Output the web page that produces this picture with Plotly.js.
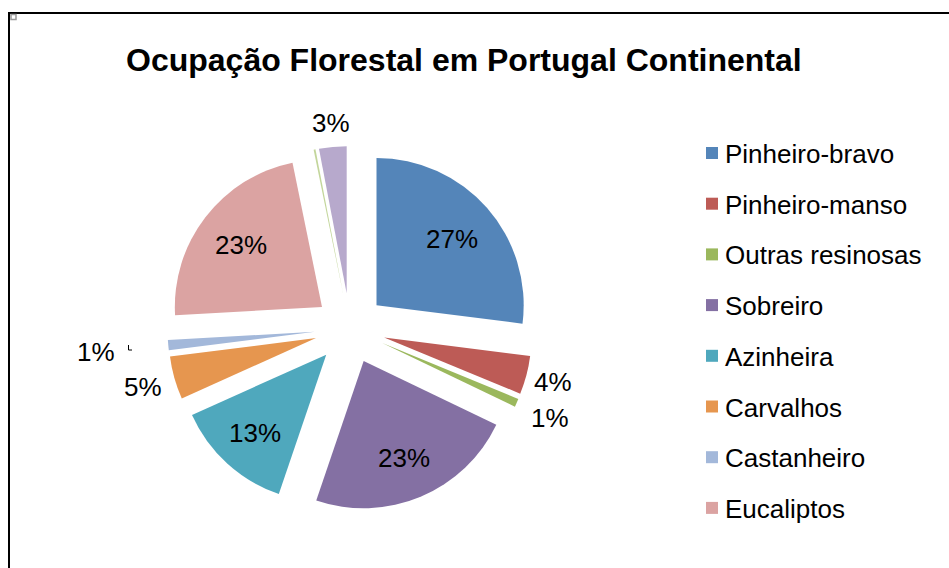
<!DOCTYPE html>
<html><head><meta charset="utf-8">
<script src="https://cdn.plot.ly/plotly-3.0.1.min.js"></script>
<style>html,body{margin:0;padding:0;background:#fff}#chart{width:949px;height:568px}</style>
</head><body><div id="chart"></div>
<script>
const categories = ["Pinheiro-bravo","Pinheiro-manso","Outras resinosas","Sobreiro","Azinheira","Carvalhos","Castanheiro","Eucaliptos","Acácias","Outras folhosas"];
const values = [26.9, 4.2, 0.9, 23.0, 13.0, 4.7, 1.1, 22.6, 0.2, 3.0];
const sliceColors = ["#5485B9","#BD5B56","#9BB85D","#8470A3","#4FA8BD","#E6964F","#A3B8DA","#DBA3A2","#C3D69B","#B7A9CC"];
// label distance from pie centre, in radii (null = no label)
const labelRadius = [0.92, 1.43, 1.49, 0.955, 0.96, 1.46, 1.73, 0.935, null, 1.40];
const legendCount = 8;
const titleText = "Ocupação Florestal em Portugal Continental";

const W = 949, H = 568;
const px = x => x / W, py = y => 1 - y / H;
const FONT = "Liberation Sans, Arial, sans-serif";
const PULL = 0.24;
const domX = [167.5 / W, 532.5 / W], domY = [57 / H, 422 / H];

const trace = {
  type: "pie",
  labels: categories,
  values: values,
  sort: false,
  direction: "clockwise",
  rotation: 0,
  pull: values.map(() => PULL),
  marker: {colors: sliceColors, line: {width: 0}},
  textinfo: "none",
  domain: {x: domX, y: domY},
  showlegend: false,
  hoverinfo: "label+percent"
};

// pie geometry (same rules Plotly uses to size the pie in its domain)
const boxW = W * (domX[1] - domX[0]), boxH = H * (domY[1] - domY[0]);
const R = Math.min(boxW, boxH) / (2 + 2 * PULL);
const CX = W * (domX[0] + domX[1]) / 2;
const CY = H * (1 - (domY[0] + domY[1]) / 2);
const total = values.reduce((a, b) => a + b, 0);

const shapes = [
  {type: "rect", xref: "paper", yref: "paper", x0: px(9), x1: px(990), y0: py(13), y1: py(600), line: {color: "#000", width: 2}},
  {type: "rect", xref: "paper", yref: "paper", x0: px(11), x1: px(16), y0: py(14.5), y1: py(19.5), line: {color: "#999", width: 1.5}, fillcolor: "#fff"},
  {type: "path", xref: "paper", yref: "paper", path: `M ${px(128.5)} ${py(345)} L ${px(128.5)} ${py(350)} L ${px(132)} ${py(350)}`, line: {color: "#000", width: 1}}
];
const annotations = [
  {text: "<b>" + titleText + "</b>", xref: "paper", yref: "paper", x: px(464), y: py(60), xanchor: "center", yanchor: "middle", showarrow: false, font: {family: FONT, size: 32, color: "#000"}}
];

// percentage labels at the middle angle of each slice
let cum = 0;
values.forEach((v, i) => {
  const mid = (cum + v / 2) / total * 2 * Math.PI;
  cum += v;
  if (labelRadius[i] === null) return;
  const d = labelRadius[i] * R;
  const x = CX + d * Math.sin(mid), y = CY - d * Math.cos(mid);
  annotations.push({text: Math.round(v / total * 100) + "%", xref: "paper", yref: "paper", x: px(x), y: py(y), xanchor: "center", yanchor: "middle", showarrow: false, font: {family: FONT, size: 26, color: "#000"}});
});

for (let i = 0; i < legendCount; i++) {
  const yc = 153 + i * 50.7;
  shapes.push({type: "rect", xref: "paper", yref: "paper", x0: px(706), x1: px(718), y0: py(yc - 6), y1: py(yc + 6), fillcolor: sliceColors[i], line: {width: 0}});
  annotations.push({text: categories[i], xref: "paper", yref: "paper", x: px(723), y: py(yc + 1), xanchor: "left", yanchor: "middle", showarrow: false, font: {family: FONT, size: 26, color: "#000"}});
}

const layout = {
  width: W, height: H,
  margin: {l: 0, r: 0, t: 0, b: 0},
  paper_bgcolor: "#fff",
  showlegend: false,
  shapes: shapes,
  annotations: annotations
};
Plotly.newPlot("chart", [trace], layout, {staticPlot: true, displayModeBar: false});
</script>
</body></html>
